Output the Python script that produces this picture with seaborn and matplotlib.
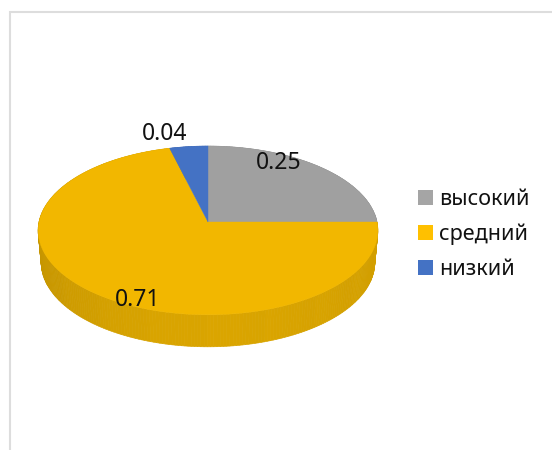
import numpy as np
import matplotlib
matplotlib.use("Agg")
import matplotlib.pyplot as plt
from matplotlib.patches import Patch
import seaborn as sns

categories = ["высокий", "средний", "низкий"]
shares = [0.25, 0.71, 0.04]
value_labels = ["0.25", "0.71", "0.04"]
colors = ["#A0A0A0", "#F2B700", "#4472C4"]
legend_colors = ["#A5A5A5", "#FFC000", "#4472C4"]

sns.set_theme(style="white")
plt.rcParams["font.family"] = ["Noto Sans", "DejaVu Sans"]
palette = sns.color_palette(colors)

fig = plt.figure(figsize=(5.52, 4.5), dpi=100)
ax = fig.add_axes([0, 0, 1, 1])
ax.set_xlim(0, 552)
ax.set_ylim(450, 0)
ax.axis("off")

# perspective projection of the unit disc onto the picture
CX, CY, RX = 208.0, 222.0, 169.0
PERSP, TILT = 0.1, -83.5
DEPTH = 32.0


def project(t, scale=1.0, drop=0.0):
    s, v = np.sin(t), np.cos(t)
    w = PERSP * v + 1
    return CX + RX * scale * s / w, CY + (TILT * v) / w + drop


def shade(rgb, t):
    # side wall: darker towards the left, lightest at the front
    s = np.sin(t)
    k = 0.90 - 0.085 * max(-s, 0) ** 2 - 0.035 * max(s, 0) ** 2
    k += 0.003 * ((int(np.degrees(t) / 6.0) % 3) - 1)
    return tuple(c * k for c in rgb)


edges = np.cumsum([0.0] + shares) * 2 * np.pi

# side wall, painted back to front
segments = []
for i, rgb in enumerate(palette):
    n = max(int((edges[i + 1] - edges[i]) / np.radians(1.0)), 2)
    ts = np.linspace(edges[i], edges[i + 1], n + 1)
    for a, b in zip(ts[:-1], ts[1:]):
        segments.append((a, b, rgb))
segments.sort(key=lambda q: -np.cos((q[0] + q[1]) / 2))
for a, b, rgb in segments:
    ts = np.array([a, b])
    x1, y1 = project(ts)
    x2, y2 = project(ts, 0.982, DEPTH)
    col = shade(rgb, (a + b) / 2)
    ax.fill([x1[0], x1[1], x2[1], x2[0]], [y1[0], y1[1], y2[1], y2[0]],
            facecolor=col, edgecolor=col, lw=0.5, zorder=2)

# top surface
for i, rgb in enumerate(palette):
    ts = np.linspace(edges[i], edges[i + 1], 200)
    x, y = project(ts)
    ax.fill(np.r_[CX, x], np.r_[CY, y], color=rgb, lw=0.3, zorder=3)

# chart frame
ax.plot([9.5, 9.5, 552], [450, 11.5, 11.5], color="#DDDDDD", lw=1.5,
        solid_joinstyle="miter", zorder=1, clip_on=False)

# data labels
label_pos = [(279, 163), (138, 300), (165, 134.5)]
for txt, (x, y) in zip(value_labels, label_pos):
    ax.text(x, y, txt, ha="center", va="center", fontsize=16.5,
            color="#111111", zorder=5)

handles = [Patch(facecolor=c, edgecolor="none") for c in legend_colors]
ax.legend(handles, categories, loc="center left",
          bbox_to_anchor=(400.5, 234.5), bbox_transform=ax.transData,
          frameon=False, fontsize=15.5, handlelength=0.7, handleheight=0.7,
          handletextpad=0.3, labelspacing=0.62, borderpad=0.3,
          labelcolor="#111111")

fig.savefig("out.png", dpi=100)
